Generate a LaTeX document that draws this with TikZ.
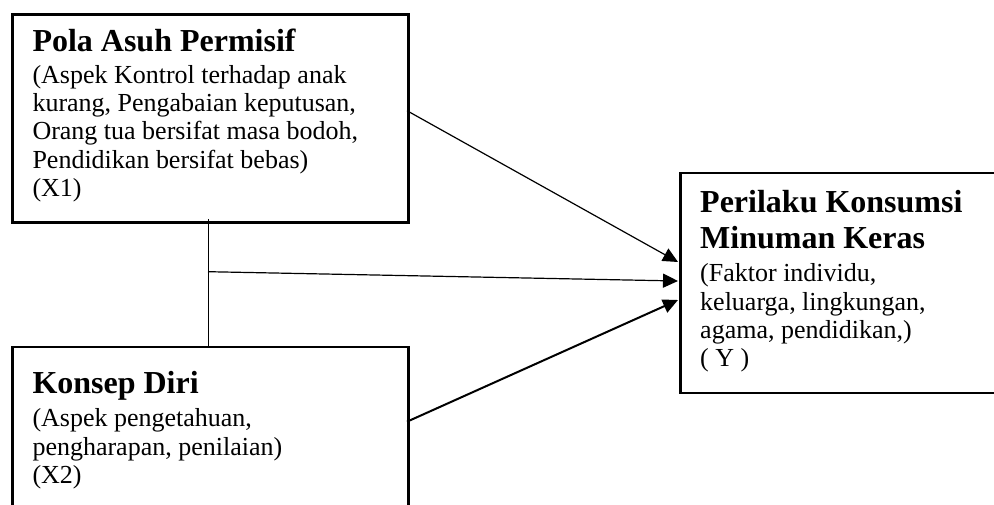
\documentclass[tikz,border=0pt]{standalone}
\usepackage{fontspec}
\setmainfont{Liberation Serif}
\usetikzlibrary{arrows.meta}
\begin{document}
\begin{tikzpicture}[x=1pt,y=-1pt,
  box/.style={draw, line width=2.6pt, rectangle, inner sep=0pt, anchor=north west},
  ttl/.style={anchor=base west, inner sep=0pt, font=\fontsize{32}{36}\selectfont\bfseries},
  bdy/.style={anchor=base west, inner sep=0pt, font=\fontsize{26}{28}\selectfont},
  arrtip/.style={-{Triangle[length=15pt,width=14pt]}},
  thinln/.style={line width=1.2pt},
  thickln/.style={line width=2pt}]
\useasboundingbox (0,0) rectangle (994,505);
\fill[white] (0,0) rectangle (994,505);
\clip (0,0) rectangle (994,505);
% boxes
\node[box, minimum width=396pt, minimum height=208.5pt] (x1) at (11,13) {};
\node[box, minimum width=396pt, minimum height=220pt] (x2) at (11,345.7) {};
\node[box, minimum width=400pt, minimum height=220pt] (y) at (679,171.7) {};
% texts box 1
\node[ttl] (t1a) at (32.3,51.7) {Pola Asuh Permisif};
\node[bdy] (t1b) at (32.3,83.3) {(Aspek Kontrol terhadap anak};
\node[bdy] (t1c) at (32.3,111.7) {kurang, Pengabaian keputusan,};
\node[bdy] (t1d) at (32.3,140) {Orang tua bersifat masa bodoh,};
\node[bdy] (t1e) at (32.3,168.3) {Pendidikan bersifat bebas)};
\node[bdy] (t1f) at (32.3,196.7) {(X1)};
% texts box 2
\node[ttl] (t2a) at (32.3,393.3) {Konsep Diri};
\node[bdy] (t2b) at (32.3,426.7) {(Aspek pengetahuan,};
\node[bdy] (t2c) at (32.3,455) {pengharapan, penilaian)};
\node[bdy] (t2d) at (32.3,483.3) {(X2)};
% texts box Y
\node[ttl] (tya) at (700,212.7) {Perilaku Konsumsi};
\node[ttl] (tyb) at (700,248.3) {Minuman Keras};
\node[bdy] (tyc) at (700,281.7) {(Faktor individu,};
\node[bdy] (tyd) at (700,310) {keluarga, lingkungan,};
\node[bdy] (tye) at (700,338.3) {agama, pendidikan,)};
\node[bdy] (tyf) at (700,366.7) {( Y )};
% connector points
\coordinate (a1s) at (407,110.7);
\coordinate (a1e) at (678,262);
\coordinate (j1) at (208,219);
\coordinate (j2) at (208,345.7);
\coordinate (jm) at (208,271.7);
\coordinate (a2e) at (678,281);
\coordinate (a3s) at (407,421.7);
\coordinate (a3e) at (678,300);
% connectors
\draw[thinln, arrtip] (a1s) -- (a1e);
\draw[line width=1pt] (j1) -- (j2);
\draw[thinln, arrtip] (jm) -- (a2e);
\draw[thickln, arrtip] (a3s) -- (a3e);
\end{tikzpicture}
\end{document}
